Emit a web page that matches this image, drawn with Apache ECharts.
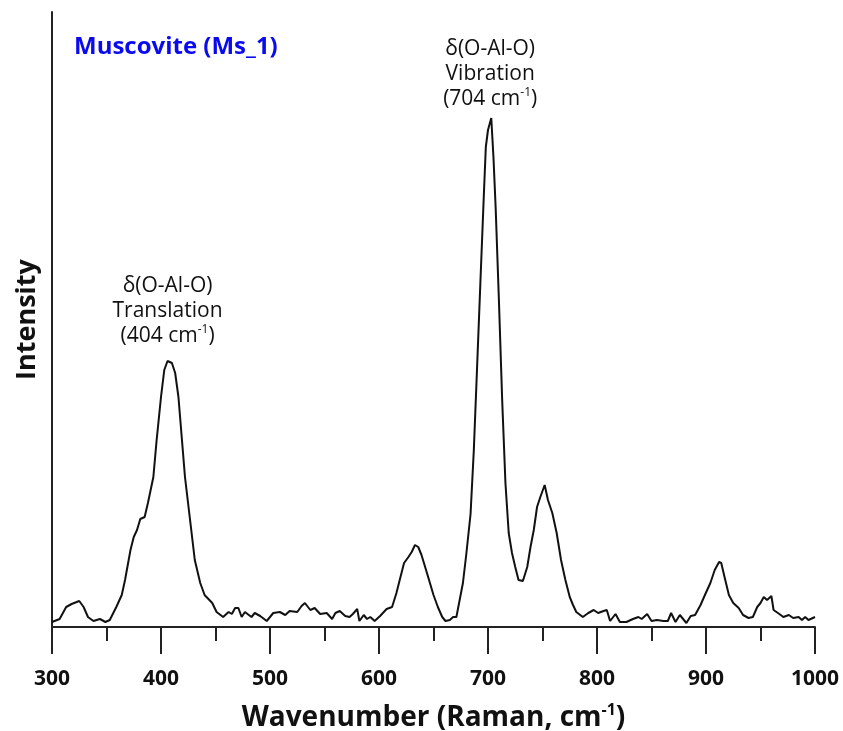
<!DOCTYPE html>
<html>
<head>
<meta charset="utf-8">
<script src="https://cdn.jsdelivr.net/npm/echarts@6/dist/echarts.min.js"></script>
<style>
  html, body { margin: 0; padding: 0; background: #fff; }
  #chart { width: 843px; height: 731px; }
</style>
</head>
<body>
<div id="chart"></div>
<script>
// wavenumber (cm-1) and intensity (a.u.)
const wavenumbers = [
  300, 307, 313, 318, 325, 329, 333, 338, 344, 349, 353, 359, 364, 367, 372, 375, 378, 381, 385, 388,
  393, 396, 400, 403, 406, 410, 413, 416, 419, 422, 427, 431, 436, 440, 447, 451, 457, 462, 465, 468,
  471, 474, 477, 483, 486, 491, 497, 503, 509, 514, 518, 525, 529, 532, 537, 541, 546, 552, 557, 560,
  564, 569, 573, 576, 580, 582, 586, 589, 592, 596, 601, 607, 612, 616, 619, 623, 627, 630, 633, 636,
  639, 644, 650, 654, 658, 661, 665, 668, 671, 674, 677, 680, 684, 687, 690, 693, 696, 698, 700, 703,
  705, 707, 710, 713, 716, 719, 722, 725, 728, 732, 736, 739, 742, 745, 748, 752, 755, 759, 763, 767,
  771, 775, 778, 781, 787, 792, 797, 801, 806, 809, 812, 817, 821, 827, 833, 838, 841, 846, 850, 855,
  861, 865, 868, 872, 876, 882, 886, 890, 895, 899, 904, 908, 912, 914, 917, 921, 925, 930, 934, 939,
  943, 947, 950, 953, 956, 960, 962, 966, 971, 976, 980, 985, 988, 991, 994, 1000
];
const intensity = [
  5, 8, 20, 23, 26, 20, 10, 6, 8, 5, 7, 20, 32, 47, 77, 90, 97, 108, 110, 124,
  150, 187, 230, 257, 266, 264, 254, 230, 190, 150, 104, 67, 44, 32, 24, 15, 10, 15, 13, 19,
  19, 10, 15, 10, 14, 11, 6, 14, 15, 12, 16, 15, 21, 24, 17, 19, 13, 14, 8, 14,
  16, 11, 10, 13, 18, 6, 12, 8, 10, 6, 11, 18, 20, 34, 47, 64, 70, 75, 82, 80,
  72, 54, 32, 20, 10, 6, 7, 10, 10, 27, 44, 72, 113, 177, 260, 344, 427, 480, 497, 509,
  470, 420, 327, 227, 144, 94, 74, 60, 47, 46, 60, 80, 97, 120, 130, 142, 127, 114, 94, 67,
  47, 30, 22, 15, 10, 14, 17, 14, 16, 17, 6, 13, 5, 5, 8, 10, 8, 13, 6, 7,
  6, 6, 14, 5, 12, 4, 11, 12, 22, 32, 44, 57, 65, 64, 50, 32, 24, 19, 12, 9,
  10, 20, 24, 30, 27, 31, 17, 14, 10, 12, 9, 10, 7, 10, 7, 10
];
const xTicks = [300, 400, 500, 600, 700, 800, 900, 1000];
const peakLabels = [
  { name: 'δ(O-Al-O)', mode: 'Translation', pos: 404, at: 406 },
  { name: 'δ(O-Al-O)', mode: 'Vibration', pos: 704, at: 702 }
];

const font = '"Open Sans", "Noto Sans", sans-serif';
const points = wavenumbers.map((w, i) => [w, intensity[i]]);
const labelGap = [12, 6];

// highest reading within a few cm-1 of the label position
function peakValue(w) {
  return Math.max(...intensity.filter((v, i) => Math.abs(wavenumbers[i] - w) <= 4));
}

const chart = echarts.init(document.getElementById('chart'), null, { renderer: 'canvas' });
chart.setOption({
  backgroundColor: '#fff',
  animation: false,
  title: {
    text: 'Muscovite (Ms_1)',
    left: 69,
    top: 30,
    textStyle: { color: '#0a0af0', fontSize: 24, fontWeight: 'bold', fontFamily: font }
  },
  grid: { left: 52, right: 28, top: 12, bottom: 104, containLabel: false, outerBoundsMode: 'none' },
  xAxis: {
    type: 'value',
    min: 300,
    max: 1000,
    interval: 100,
    name: '{b|Wavenumber (Raman, cm}{s|-1}{b|)}',
    nameLocation: 'middle',
    nameGap: 75,
    nameTextStyle: {
      rich: {
        b: { fontSize: 28, fontWeight: 'bold', color: '#111', fontFamily: font, lineHeight: 32 },
        s: { fontSize: 16, fontWeight: 'bold', color: '#111', fontFamily: font, lineHeight: 19, verticalAlign: 'top' }
      }
    },
    axisLine: { show: true, onZero: false, lineStyle: { color: '#222', width: 2 } },
    axisTick: { show: true, inside: false, length: 27, lineStyle: { color: '#222', width: 2 } },
    minorTick: { show: true, splitNumber: 2, length: 14, lineStyle: { color: '#222', width: 2 } },
    axisLabel: {
      margin: 42,
      fontSize: 21,
      fontWeight: 'bold',
      color: '#111',
      fontFamily: font,
      formatter: v => (xTicks.includes(v) ? String(v) : '')
    },
    splitLine: { show: false }
  },
  yAxis: {
    type: 'value',
    min: 0,
    max: 615,
    name: 'Intensity',
    nameLocation: 'middle',
    nameGap: 11,
    nameTextStyle: { fontSize: 27, fontWeight: 'bold', color: '#111', fontFamily: font },
    axisLine: { show: true, lineStyle: { color: '#222', width: 2 } },
    axisTick: { show: false },
    axisLabel: { show: false },
    splitLine: { show: false }
  },
  series: [{
    type: 'line',
    data: points,
    showSymbol: false,
    symbol: 'none',
    lineStyle: { color: '#111', width: 2 },
    markPoint: {
      symbol: 'circle',
      symbolSize: 0,
      data: peakLabels.map((p, i) => ({
        coord: [p.at, peakValue(p.at)],
        label: { distance: labelGap[i] }
      })),
      label: {
        show: true,
        position: 'top',
        formatter: params => {
          const p = peakLabels[params.dataIndex];
          return '{a|' + p.name + '}\n{a|' + p.mode + '}\n{a|(' + p.pos + ' cm}{s|-1}{a|)}';
        },
        rich: {
          a: { fontSize: 21, lineHeight: 25, color: '#111', fontFamily: font, align: 'center' },
          s: { fontSize: 12, lineHeight: 15, color: '#111', fontFamily: font, verticalAlign: 'top' }
        }
      }
    }
  }]
});
</script>
</body>
</html>
